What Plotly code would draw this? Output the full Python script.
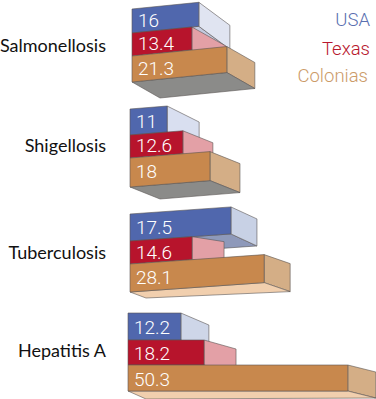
import plotly.graph_objects as go

# Data
diseases = ["Salmonellosis", "Shigellosis", "Tuberculosis", "Hepatitis A"]
series_names = ["USA", "Texas", "Colonias"]
usa_values = [16, 11, 17.5, 12.2]
texas_values = [13.4, 12.6, 14.6, 18.2]
colonias_values = [21.3, 18, 28.1, 50.3]
# Bar lengths as actually drawn (the artwork is not strictly to scale)
usa_drawn = [15.3, 8.5, 23.1, 12.1]
texas_drawn = [13.7, 12.1, 14.2, 17.4]
colonias_drawn = [21.7, 18.3, 30.7, 50.3]

# Pseudo-3D projection parameters
K = 4.37  # px per value unit
W, H = 376, 399
group_left = [132, 130, 130, 128]
group_rows = [[9, 33, 56, 82], [109, 135, 158, 187], [214, 241, 264, 292], [313, 340, 365, 391]]
group_tilt = [-0.1, -0.08, -0.07, 0.0]
group_depth = [
    [(31, 23), (34, 19), (28, 16)],
    [(32, 16), (30, 12), (30, 12)],
    [(26, 12), (32, 5), (26, 9)],
    [(28, 12), (32, 9), (28, 7)],
]
floor_back_left = [(28, 16), (30, 12), (16, 6), (18, 8)]
floor_color = ["#8b8b89", "#8b8b89", "#f1cfae", "#f1cfae"]
under_color = ["#c3c9de", "#c3c9de", "#8e99ba", "#c3c9de"]
blue_side = ["#e0e4f1", "#d9dff0", "#c8d1e5", "#ced6e8"]
front_colors = ["#5067ad", "#b7142c", "#c8884d"]
side_colors = [None, "#e3a0a6", "#d4ae86"]
legend_colors = ["#5a70b0", "#b8182e", "#cc9b69"]
edge = "#5a5654"
label_dy = [1, -2, 0, -1]

fig = go.Figure()


def face(xs_px, ys, color):
    fig.add_trace(go.Scatter(
        x=[p / K for p in xs_px] + [xs_px[0] / K], y=list(ys) + [ys[0]],
        mode="lines", fill="toself", fillcolor=color,
        line=dict(color=edge, width=0.6), hoverinfo="skip", showlegend=False))


lengths = [usa_drawn, texas_drawn, colonias_drawn]
labels = [usa_values, texas_values, colonias_values]

for g, name in enumerate(diseases):
    x0 = group_left[g]
    rows = group_rows[g]
    tilt = group_tilt[g]
    ends = [lengths[s][g] * K for s in range(3)]

    def corners(s):
        r = x0 + ends[s]
        dy = tilt * ends[s]
        return r, rows[s] + dy, rows[s + 1] + dy

    # blue underside and side
    r, t, b = corners(0)
    dx, dz = group_depth[g][0]
    face([x0, r, r + dx, x0 + dx], [rows[1], b, b + dz, rows[1] + dz], under_color[g])
    face([r, r + dx, r + dx, r], [t, t + dz, b + dz, b], blue_side[g])
    # red side
    r, t, b = corners(1)
    dx, dz = group_depth[g][1]
    face([r, r + dx, r + dx, r], [t, t + dz, b + dz, b], side_colors[1])
    # orange side and floor
    r, t, b = corners(2)
    dx, dz = group_depth[g][2]
    face([r, r + dx, r + dx, r], [t, t + dz, b + dz, b], side_colors[2])
    fx, fz = floor_back_left[g]
    face([x0, x0 + fx, r + dx, r], [rows[3], rows[3] + fz, b + dz, b], floor_color[g])
    # fronts
    for s in range(3):
        r, t, b = corners(s)
        face([x0, r, r, x0], [rows[s], t, b, rows[s + 1]], front_colors[s])

    # value labels
    for s in range(3):
        fig.add_trace(go.Scatter(
            x=[(x0 + 6) / K],
            y=[(rows[s] + rows[s + 1]) / 2 + tilt * 22 + 3],
            mode="text", text=[str(labels[s][g])], textposition="middle right",
            textfont=dict(family="Roboto", size=19, color="#ffffff", weight=300),
            hoverinfo="skip", showlegend=False))

    # category label
    fig.add_trace(go.Scatter(
        x=[106 / K], y=[(rows[0] + rows[3]) / 2 + 1 + label_dy[g]],
        mode="text", text=[name], textposition="middle left",
        textfont=dict(family="Lato", size=18, color="#111111"),
        hoverinfo="skip", showlegend=False))

# legend text
for name, color, px, py in zip(series_names, legend_colors, [370, 370, 368], [21, 50, 77]):
    fig.add_trace(go.Scatter(
        x=[px / K], y=[py], mode="text", text=[name], textposition="middle left",
        textfont=dict(family="Roboto", size=18.5, color=color, weight=300),
        hoverinfo="skip", showlegend=False))

fig.update_layout(
    width=W, height=H, margin=dict(l=0, r=0, t=0, b=0),
    paper_bgcolor="#ffffff", plot_bgcolor="#ffffff", showlegend=False,
    xaxis=dict(range=[0, W / K], visible=False, domain=[0, 1], fixedrange=True),
    yaxis=dict(range=[H, 0], visible=False, domain=[0, 1], fixedrange=True),
)
fig.write_html("out.html", config=dict(displayModeBar=False),
               post_script="document.body.style.margin='0';")
